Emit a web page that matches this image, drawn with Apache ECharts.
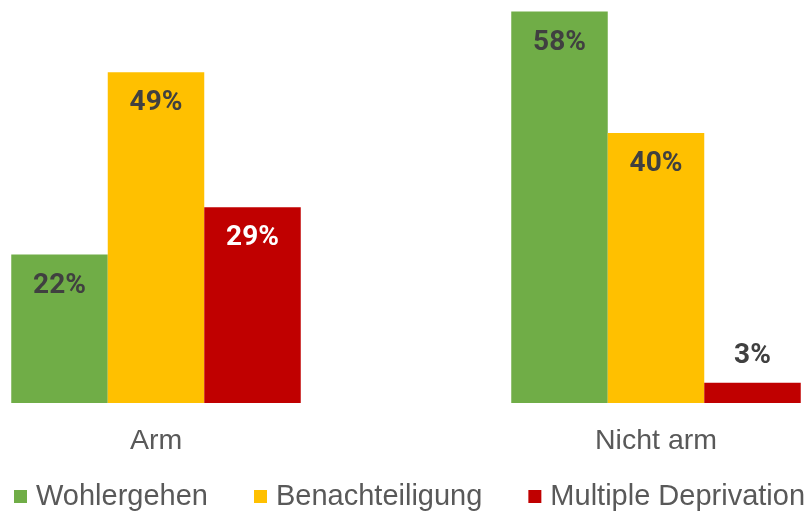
<!DOCTYPE html>
<html>
<head>
<meta charset="utf-8">
<script src="https://cdn.jsdelivr.net/npm/echarts@6/dist/echarts.min.js"></script>
<style>
  html, body { margin: 0; padding: 0; background: #fff; }
  #chart { width: 811px; height: 511px; }
</style>
</head>
<body>
<div id="chart"></div>
<script>
// Daten
const categories = ['Arm', 'Nicht arm'];
const wohlergehen = [22, 58];
const benachteiligung = [49, 40];
const multipleDeprivation = [29, 3];

const chart = echarts.init(document.getElementById('chart'));

const labelStyle = {
  show: true,
  position: 'insideTop',
  distance: 17,
  formatter: '{c}%',
  fontFamily: 'Roboto',
  fontWeight: 'bold',
  fontSize: 28,
  color: '#404040'
};

const option = {
  animation: false,
  grid: { left: -94, right: -95, top: -2, bottom: 108, outerBoundsMode: 'none', containLabel: false },
  legend: {
    bottom: 0,
    left: 14,
    width: 797,
    padding: 0,
    itemWidth: 13,
    itemHeight: 13,
    itemGap: 46,
    icon: 'rect',
    textStyle: { fontFamily: 'Liberation Sans', fontSize: 29, color: '#595959', padding: [0, 0, 0, 4] },
    data: ['Wohlergehen', 'Benachteiligung', 'Multiple Deprivation']
  },
  xAxis: {
    type: 'category',
    data: categories,
    axisLine: { show: false },
    axisTick: { show: false },
    axisLabel: { fontFamily: 'Liberation Sans', fontSize: 28.5, color: '#595959', margin: 24 }
  },
  yAxis: { type: 'value', min: 0, max: 60, show: false },
  series: [
    {
      name: 'Wohlergehen', type: 'bar', data: wohlergehen,
      barWidth: 96.5, barGap: '0%',
      itemStyle: { color: '#70AD47' }, label: labelStyle
    },
    {
      name: 'Benachteiligung', type: 'bar', data: benachteiligung,
      barWidth: 96.5, barGap: '0%',
      itemStyle: { color: '#FFC000' }, label: labelStyle
    },
    {
      name: 'Multiple Deprivation', type: 'bar',
      // kleiner Balken: Beschriftung oberhalb in Dunkelgrau
      data: multipleDeprivation.map(function (v) {
        return v < 10
          ? { value: v, label: { position: 'top', distance: 13, color: '#404040' } }
          : v;
      }),
      barWidth: 96.5, barGap: '0%',
      itemStyle: { color: '#C00000' },
      label: Object.assign({}, labelStyle, { color: '#ffffff' })
    }
  ]
};

chart.setOption(option);
</script>
</body>
</html>
